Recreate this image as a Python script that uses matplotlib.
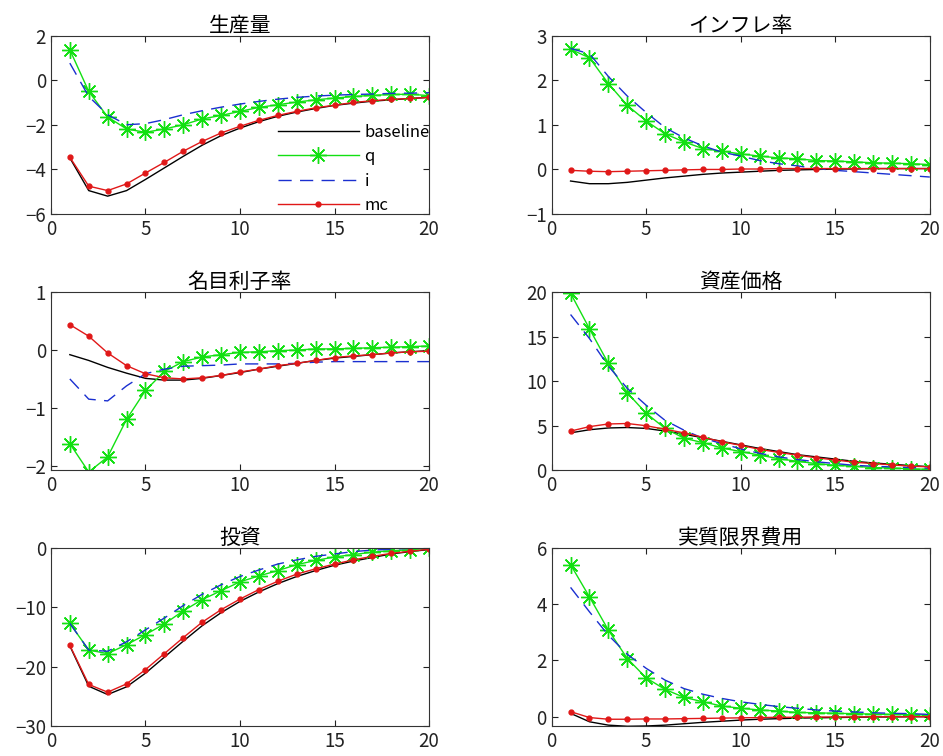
import matplotlib
matplotlib.use("Agg")
import matplotlib.pyplot as plt

plt.rcParams['font.family'] = ['Noto Sans CJK JP', 'DejaVu Sans']

# 期間
periodo = list(range(1, 21))

# 生産量
y_base = [-3.48, -4.95, -5.2, -4.95, -4.45, -3.93, -3.41, -2.91, -2.48, -2.14,
          -1.85, -1.61, -1.42, -1.26, -1.12, -1.02, -0.93, -0.87, -0.81, -0.76]
y_q = [1.38, -0.49, -1.64, -2.18, -2.33, -2.18, -1.99, -1.73, -1.57, -1.39,
       -1.21, -1.09, -0.97, -0.87, -0.79, -0.72, -0.67, -0.63, -0.62, -0.68]
y_i = [0.78, -0.72, -1.54, -1.99, -1.94, -1.76, -1.54, -1.36, -1.2, -1.06,
       -0.94, -0.84, -0.76, -0.7, -0.66, -0.63, -0.61, -0.58, -0.57, -0.55]
y_mc = [-3.45, -4.75, -4.95, -4.65, -4.16, -3.68, -3.18, -2.74, -2.36, -2.06,
        -1.79, -1.57, -1.39, -1.23, -1.11, -0.99, -0.91, -0.85, -0.81, -0.76]

# インフレ率
pi_base = [-0.26, -0.32, -0.32, -0.29, -0.24, -0.19, -0.15, -0.11, -0.08, -0.06,
           -0.04, -0.02, -0.01, 0.0, 0.01, 0.01, 0.02, 0.02, 0.02, 0.02]
pi_q = [2.7, 2.51, 1.93, 1.44, 1.09, 0.8, 0.62, 0.47, 0.41, 0.35,
        0.3, 0.26, 0.24, 0.2, 0.19, 0.17, 0.15, 0.14, 0.13, 0.11]
pi_i = [2.72, 2.6, 2.09, 1.65, 1.28, 0.94, 0.71, 0.53, 0.39, 0.3,
        0.2, 0.13, 0.08, 0.02, -0.02, -0.05, -0.08, -0.11, -0.14, -0.17]
pi_mc = [-0.02, -0.04, -0.05, -0.04, -0.03, -0.02, -0.01, 0.0, 0.0, 0.01,
         0.01, 0.02, 0.02, 0.02, 0.02, 0.02, 0.02, 0.02, 0.02, 0.02]

# 名目利子率
r_base = [-0.08, -0.18, -0.3, -0.4, -0.49, -0.52, -0.52, -0.49, -0.44, -0.39,
          -0.33, -0.28, -0.23, -0.18, -0.14, -0.11, -0.08, -0.05, -0.03, -0.01]
r_q = [-1.62, -2.11, -1.85, -1.2, -0.7, -0.37, -0.2, -0.12, -0.08, -0.04,
       -0.03, -0.01, 0.0, 0.02, 0.02, 0.03, 0.04, 0.05, 0.06, 0.07]
r_i = [-0.5, -0.85, -0.88, -0.62, -0.41, -0.33, -0.28, -0.27, -0.26, -0.24,
       -0.24, -0.24, -0.23, -0.21, -0.2, -0.2, -0.2, -0.2, -0.2, -0.2]
r_mc = [0.44, 0.24, -0.05, -0.27, -0.41, -0.48, -0.5, -0.48, -0.44, -0.38,
        -0.33, -0.27, -0.23, -0.18, -0.13, -0.1, -0.08, -0.05, -0.03, -0.02]

# 資産価格
q_base = [4.2, 4.55, 4.75, 4.8, 4.7, 4.4, 4.05, 3.65, 3.25, 2.85,
          2.45, 2.1, 1.75, 1.5, 1.25, 1.0, 0.82, 0.67, 0.52, 0.4]
q_q = [19.9, 15.9, 12.0, 8.7, 6.4, 4.7, 3.6, 3.1, 2.5, 2.1,
       1.7, 1.3, 1.0, 0.75, 0.55, 0.45, 0.3, 0.25, 0.15, 0.1]
q_i = [17.5, 14.8, 11.7, 9.2, 7.3, 5.6, 4.5, 3.6, 3.0, 2.4,
       1.9, 1.5, 1.2, 0.95, 0.75, 0.55, 0.45, 0.37, 0.3, 0.22]
q_mc = [4.4, 4.9, 5.2, 5.25, 5.0, 4.6, 4.2, 3.7, 3.2, 2.8,
        2.35, 2.0, 1.7, 1.4, 1.15, 0.9, 0.75, 0.6, 0.45, 0.38]

# 投資
inv_base = [-16.5, -23.3, -24.7, -23.4, -21.1, -18.4, -15.7, -13.1, -10.9, -9.0,
            -7.4, -6.0, -4.8, -3.8, -2.9, -2.2, -1.6, -1.0, -0.6, -0.25]
inv_q = [-12.7, -17.2, -17.8, -16.3, -14.6, -12.8, -10.6, -8.7, -7.2, -5.7,
         -4.7, -3.8, -2.8, -2.1, -1.5, -1.1, -0.7, -0.45, -0.3, 0.0]
inv_i = [-12.7, -17.2, -17.4, -15.8, -13.8, -11.8, -9.7, -7.8, -6.2, -4.8,
         -3.7, -2.7, -2.0, -1.4, -1.0, -0.6, -0.35, -0.2, -0.05, 0.0]
inv_mc = [-16.4, -23.0, -24.3, -22.9, -20.5, -17.8, -15.1, -12.5, -10.4, -8.6,
          -7.0, -5.6, -4.4, -3.5, -2.7, -2.0, -1.4, -0.9, -0.55, -0.2]

# 実質限界費用
mc_base = [0.12, -0.18, -0.3, -0.34, -0.33, -0.3, -0.25, -0.2, -0.16, -0.12,
           -0.09, -0.07, -0.05, -0.04, -0.03, -0.02, -0.01, -0.01, 0.0, 0.0]
mc_q = [5.41, 4.26, 3.08, 2.07, 1.38, 0.97, 0.69, 0.53, 0.38, 0.3,
        0.24, 0.2, 0.15, 0.14, 0.12, 0.11, 0.09, 0.08, 0.07, 0.06]
mc_i = [4.6, 3.73, 2.9, 2.22, 1.72, 1.3, 1.0, 0.8, 0.65, 0.53,
        0.44, 0.36, 0.3, 0.24, 0.2, 0.17, 0.14, 0.12, 0.11, 0.08]
mc_mc = [0.18, -0.03, -0.09, -0.09, -0.08, -0.08, -0.07, -0.06, -0.05, -0.04,
         -0.03, -0.02, -0.02, -0.01, -0.01, -0.01, 0.0, 0.0, 0.0, 0.0]

titulos = ["生産量", "インフレ率", "名目利子率", "資産価格", "投資", "実質限界費用"]
series = [
    (y_base, y_q, y_i, y_mc),
    (pi_base, pi_q, pi_i, pi_mc),
    (r_base, r_q, r_i, r_mc),
    (q_base, q_q, q_i, q_mc),
    (inv_base, inv_q, inv_i, inv_mc),
    (mc_base, mc_q, mc_i, mc_mc),
]
limites_y = [(-6, 2), (-1, 3), (-2.08, 1), (0, 20), (-30, 0), (-0.33, 6)]
ticks_y = [[-6, -4, -2, 0, 2], [-1, 0, 1, 2, 3], [-2, -1, 0, 1],
           [0, 5, 10, 15, 20], [-30, -20, -10, 0], [0, 2, 4, 6]]
nombres = ["baseline", "q", "i", "mc"]

fig = plt.figure(figsize=(9.43, 7.56), dpi=100)

izq = [0.054, 0.585]
abajo = [0.717, 0.378, 0.0397]
ancho = 0.401
alto = 0.2354

verde = "#12e012"
azul = "#1a2fd0"
rojo = "#e01818"

for k in range(6):
    fila = k // 2
    col = k % 2
    ax = fig.add_axes([izq[col], abajo[fila], ancho, alto])
    base, sq, si, smc = series[k]
    ax.plot(periodo, base, color="black", lw=1.0, label=nombres[0])
    ax.plot(periodo, sq, color=verde, lw=1.0, marker=(8, 2, 0), markersize=12,
            markeredgewidth=1.0, label=nombres[1])
    ax.plot(periodo, si, color=azul, lw=1.0, dashes=(9.5, 6), label=nombres[2])
    ax.plot(periodo, smc, color=rojo, lw=1.0, marker="o", markersize=3.5,
            label=nombres[3])
    ax.set_xlim(0, 20)
    ax.set_ylim(*limites_y[k])
    ax.set_xticks([0, 5, 10, 15, 20])
    ax.set_yticks(ticks_y[k])
    ax.tick_params(direction="in", top=True, right=True, length=4,
                   labelsize=13.5, colors="#222222")
    for lado in ax.spines.values():
        lado.set_color("#333333")
    ax.set_title(titulos[k], fontsize=15, pad=3)
    if k == 0:
        ax.legend(loc="lower right", bbox_to_anchor=(1.01, -0.02), frameon=False,
                  fontsize=12, handlelength=4.9, handletextpad=0.3,
                  labelspacing=0.45, borderaxespad=0, borderpad=0.2)

fig.savefig("out.png", dpi=100)
